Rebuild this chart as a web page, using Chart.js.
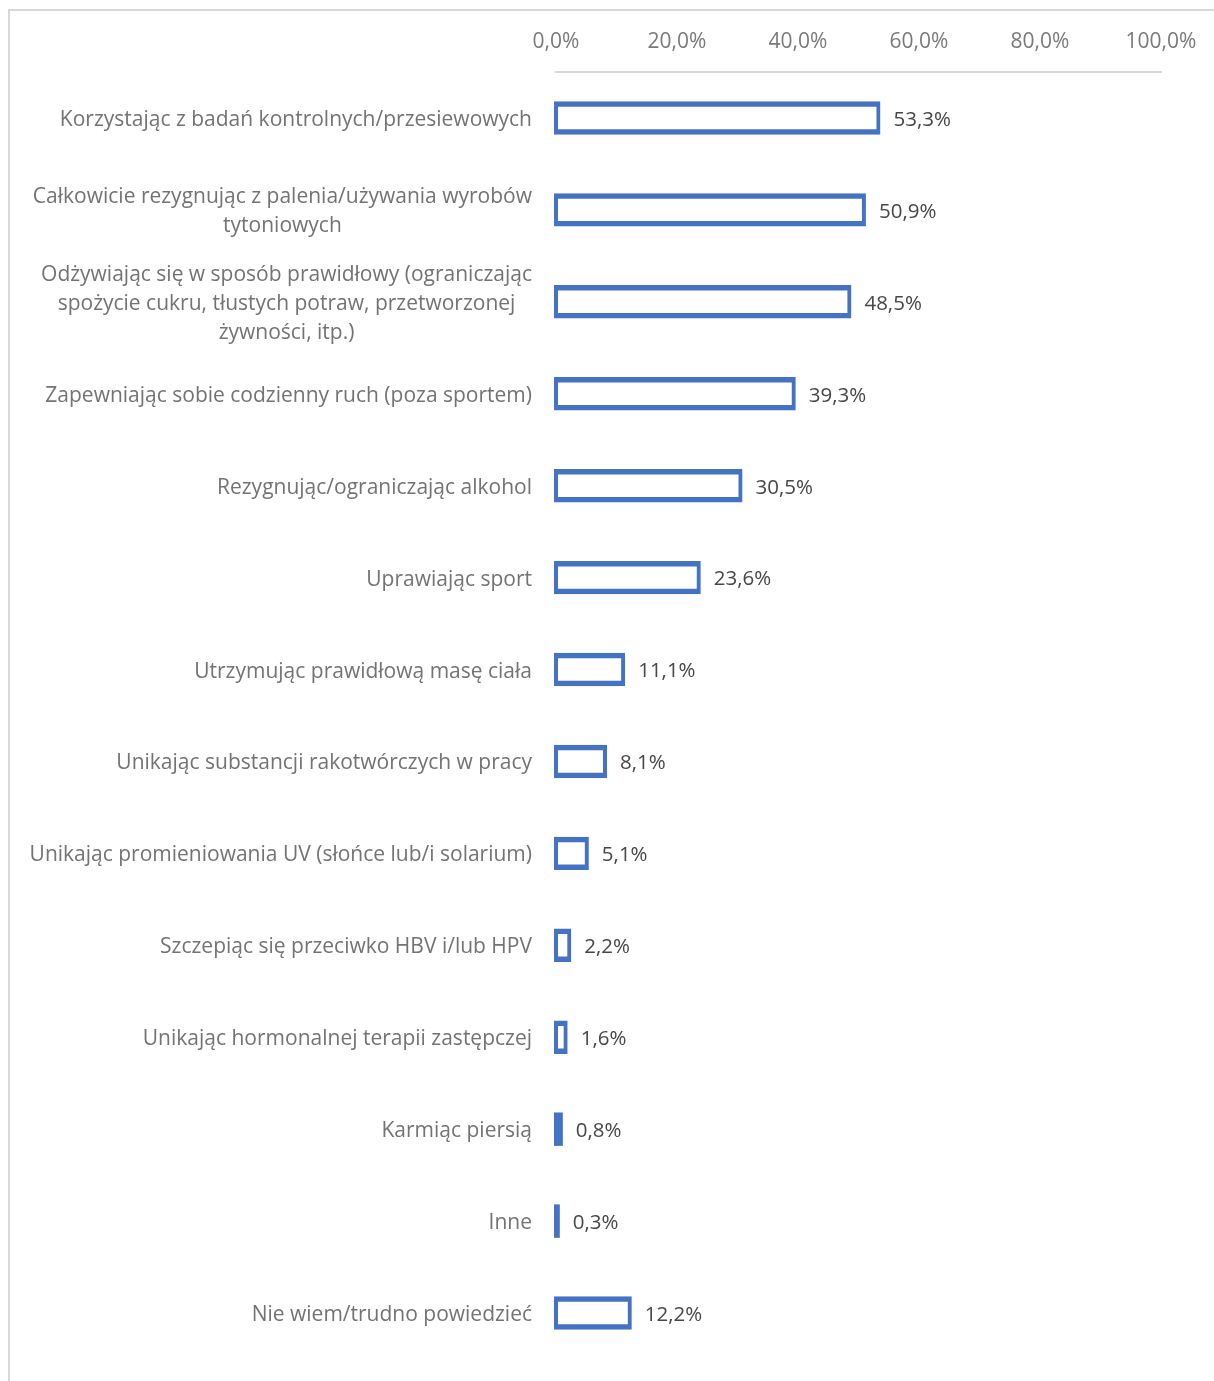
<!DOCTYPE html>
<html>
<head>
<meta charset="utf-8">
<script src="https://cdn.jsdelivr.net/npm/chart.js@4.4.1/dist/chart.umd.min.js"></script>
<style>
  body { margin: 0; background: #fff; }
  #ramka { position: absolute; left: 8px; top: 9px; right: 0; bottom: 0; border-left: 2px solid #d9d9d9; border-top: 2px solid #d9d9d9; }
  canvas { position: absolute; left: 0; top: 0; }
</style>
</head>
<body>
<div id="ramka"></div>
<canvas id="wykres" width="1214" height="1381"></canvas>
<script>
const kategorie = [
    'Korzystając z badań kontrolnych/przesiewowych',
    ['Całkowicie rezygnując z palenia/używania wyrobów', 'tytoniowych'],
    ['Odżywiając się w sposób prawidłowy (ograniczając', 'spożycie cukru, tłustych potraw, przetworzonej', 'żywności, itp.)'],
    'Zapewniając sobie codzienny ruch (poza sportem)',
    'Rezygnując/ograniczając alkohol',
    'Uprawiając sport',
    'Utrzymując prawidłową masę ciała',
    'Unikając substancji rakotwórczych w pracy',
    'Unikając promieniowania UV (słońce lub/i solarium)',
    'Szczepiąc się przeciwko HBV i/lub HPV',
    'Unikając hormonalnej terapii zastępczej',
    'Karmiąc piersią',
    'Inne',
    'Nie wiem/trudno powiedzieć'
]
const wartosci = [53.3, 50.9, 48.5, 39.3, 30.5, 23.6, 11.1, 8.1, 5.1, 2.2, 1.6, 0.8, 0.3, 12.2]
const skalaMin = 0
const skalaMax = 100
const skalaKrok = 20

const CZCIONKA = '"Open Sans", "DejaVu Sans", sans-serif'
const NIEBIESKI = '#4472c4'

function formatuj(v){
    return v.toFixed(1).replace('.', ',') + '%'
}

// etykiety kategorii (wyrownane do prawej, linie wysrodkowane) i wartosci przy slupkach
const etykiety = {
    id: 'etykiety',
    afterDatasetsDraw(chart){
        const ctx = chart.ctx
        const sx = chart.scales.x
        const sy = chart.scales.y
        ctx.save()
        ctx.textBaseline = 'middle'
        kategorie.forEach((kat, i) => {
            const yc = sy.getPixelForValue(i) + 2
            const linie = Array.isArray(kat) ? kat : [kat]
            ctx.font = '21px ' + CZCIONKA
            const szer = Math.max(...linie.map(l => ctx.measureText(l).width))
            const prawa = sx.left - 24
            ctx.fillStyle = '#737373'
            ctx.textAlign = 'center'
            linie.forEach((l, j) => {
                ctx.fillText(l, prawa - szer / 2, yc + (j - (linie.length - 1) / 2) * 29)
            })
            ctx.font = '20.5px ' + CZCIONKA
            ctx.fillStyle = '#474747'
            ctx.textAlign = 'left'
            ctx.fillText(formatuj(wartosci[i]), sx.getPixelForValue(wartosci[i]) + 15, yc)
        })
        ctx.restore()
    }
}

// bardzo waskie slupki (< 1%) rysowane jako pelne
const waski = c => c.raw < 1

const konfiguracja = {
    type: 'bar',
    data: {
        labels: kategorie,
        datasets: [{
            data: wartosci,
            backgroundColor: c => waski(c) ? NIEBIESKI : '#ffffff',
            borderColor: NIEBIESKI,
            borderWidth: c => waski(c) ? 0 : { left: 4, right: 4, top: 5.5, bottom: 5.5 },
            borderSkipped: false,
            inflateAmount: 2,
            clip: false,
            categoryPercentage: 1,
            barPercentage: 0.32
        }]
    },
    options: {
        indexAxis: 'y',
        responsive: false,
        animation: false,
        devicePixelRatio: 1,
        layout: {
            padding: { left: 556, right: 53, top: 0, bottom: 22 }
        },
        scales: {
            x: {
                position: 'top',
                min: skalaMin,
                max: skalaMax,
                grid: { display: false, drawTicks: false },
                border: { display: true, color: '#d9d9d9', width: 2 },
                ticks: {
                    stepSize: skalaKrok,
                    padding: 17,
                    color: '#7a7a7a',
                    font: { family: CZCIONKA, size: 21 },
                    callback: v => formatuj(v)
                },
                afterFit: s => { s.height = 72 }
            },
            y: {
                grid: { display: false, drawTicks: false },
                border: { display: false },
                ticks: { display: false },
                afterFit: s => { s.width = 0 }
            }
        },
        plugins: {
            legend: { display: false },
            tooltip: { enabled: false }
        }
    },
    plugins: [etykiety]
}

const wykres = new Chart(document.getElementById('wykres'), konfiguracja)
</script>
</body>
</html>
